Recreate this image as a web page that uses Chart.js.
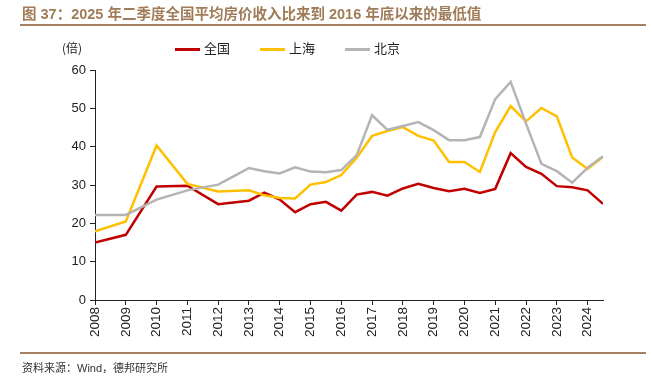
<!DOCTYPE html>
<html>
<head>
<meta charset="utf-8">
<script src="https://cdn.jsdelivr.net/npm/chart.js@4"></script>
<style>
  body { margin: 0; background: #fff; }
  #wrap { position: relative; width: 652px; height: 392px; overflow: hidden; }
  #myChart { position: absolute; left: 0; top: 0; }
  .title { position: absolute; left: 22px; top: 2px; font: bold 14.5px "Liberation Sans", "Noto Sans CJK SC", sans-serif; color: #a07c58; white-space: nowrap; }
  .rule { position: absolute; left: 20px; width: 626px; height: 2px; background: #a58060; }
  .unit { position: absolute; left: 62px; top: 39px; font: 12px "Noto Sans CJK SC", sans-serif; color: #222; }
  .legend { position: absolute; top: 38px; font: 13px "Noto Sans CJK SC", sans-serif; color: #222; }
  .legend span.sw { display: inline-block; width: 25px; height: 3px; vertical-align: middle; margin-right: 4px; }
  .source { position: absolute; left: 22px; top: 359px; font: 11px "Liberation Sans", "Noto Sans CJK SC", sans-serif; color: #333; }
</style>
</head>
<body>
<div id="wrap">
  <canvas id="myChart" width="652" height="392"></canvas>
  <div class="title">图 37：2025 年二季度全国平均房价收入比来到 2016 年底以来的最低值</div>
  <div class="rule" style="top:24px"></div>
  <div class="unit">(倍)</div>
  <div id="legend"></div>
  <div class="rule" style="top:352px"></div>
  <div class="source">资料来源：Wind，德邦研究所</div>
</div>
<script>
// 时间点（年，半年度数据在 x.5）
const periods = [2008, 2009, 2010, 2011, 2012, 2013, 2013.5, 2014, 2014.5, 2015, 2015.5,
    2016, 2016.5, 2017, 2017.5, 2018, 2018.5, 2019, 2019.5, 2020, 2020.5,
    2021, 2021.5, 2022, 2022.5, 2023, 2023.5, 2024, 2024.5];

const seriesNames = ['全国', '上海', '北京'];
const seriesColors = ['#c00000', '#ffc000', '#b4b4b4'];

const national = [15.0, 17.0, 29.6, 29.8, 25.0, 25.9, 28.0, 26.2, 22.9, 25.0, 25.6,
    23.3, 27.5, 28.2, 27.2, 29.1, 30.3, 29.2, 28.4, 29.0, 27.9,
    29.0, 38.3, 34.7, 32.9, 29.7, 29.4, 28.6, 25.1];
const shanghai = [17.9, 20.5, 40.3, 30.3, 28.3, 28.6, 27.3, 26.6, 26.5, 30.1, 30.8,
    32.6, 37.1, 42.8, 44.1, 45.1, 42.8, 41.6, 36.0, 36.0, 33.4,
    43.8, 50.6, 46.6, 50.1, 47.9, 37.2, 34.2, 37.3];
const beijing = [22.2, 22.2, 26.2, 28.6, 30.1, 34.4, 33.6, 33.0, 34.6, 33.5, 33.3,
    33.9, 37.8, 48.2, 44.4, 45.4, 46.4, 44.3, 41.7, 41.7, 42.5,
    52.4, 56.9, 46.0, 35.5, 33.6, 30.6, 34.5, 37.5];

const yearLabels = [2008, 2009, 2010, 2011, 2012, 2013, 2014, 2015, 2016,
    2017, 2018, 2019, 2020, 2021, 2022, 2023, 2024];
const yTicks = [0, 10, 20, 30, 40, 50, 60];

const allValues = [national, shanghai, beijing];

// 图例
const legendPos = [175, 260, 345];
const legendBox = document.getElementById('legend');
seriesNames.forEach((name, i) => {
    const d = document.createElement('div');
    d.className = 'legend';
    d.style.left = legendPos[i] + 'px';
    d.innerHTML = '<span class="sw" style="background:' + seriesColors[i] + '"></span>' + name;
    legendBox.appendChild(d);
});

const tickFont = { family: '"Liberation Sans", Arial, sans-serif', size: 13 };

new Chart(document.getElementById('myChart').getContext('2d'), {
    type: 'line',
    data: {
        datasets: seriesNames.map((name, i) => ({
            label: name,
            data: periods.map((p, k) => ({ x: p, y: allValues[i][k] })),
            borderColor: seriesColors[i],
            backgroundColor: seriesColors[i],
            borderWidth: 2.5,
            pointRadius: 0,
            tension: 0
        })).reverse()
    },
    options: {
        responsive: false,
        animation: false,
        layout: { padding: { left: 50, right: 49, top: 70, bottom: 40 } },
        plugins: { legend: { display: false }, tooltip: { enabled: false } },
        scales: {
            x: {
                type: 'linear',
                min: yearLabels[0],
                max: periods[periods.length - 1],
                afterBuildTicks: scale => {
                    scale.ticks = yearLabels.map(v => ({ value: v }));
                },
                afterFit: scale => { scale.height = 52; },
                border: { color: '#222', width: 1 },
                grid: { drawOnChartArea: false, drawTicks: true, tickLength: 5, color: '#222' },
                ticks: {
                    color: '#222',
                    font: { family: tickFont.family, size: 13.5 },
                    minRotation: 90,
                    maxRotation: 90,
                    padding: 2,
                    callback: v => String(v)
                }
            },
            y: {
                min: yTicks[0],
                max: yTicks[yTicks.length - 1],
                afterBuildTicks: scale => {
                    scale.ticks = yTicks.map(v => ({ value: v }));
                },
                afterFit: scale => { scale.width = 45; },
                border: { color: '#222', width: 1 },
                grid: { drawOnChartArea: false, drawTicks: true, tickLength: 5, color: '#222' },
                ticks: { color: '#222', font: tickFont, padding: 4 }
            }
        }
    }
});
</script>
</body>
</html>
